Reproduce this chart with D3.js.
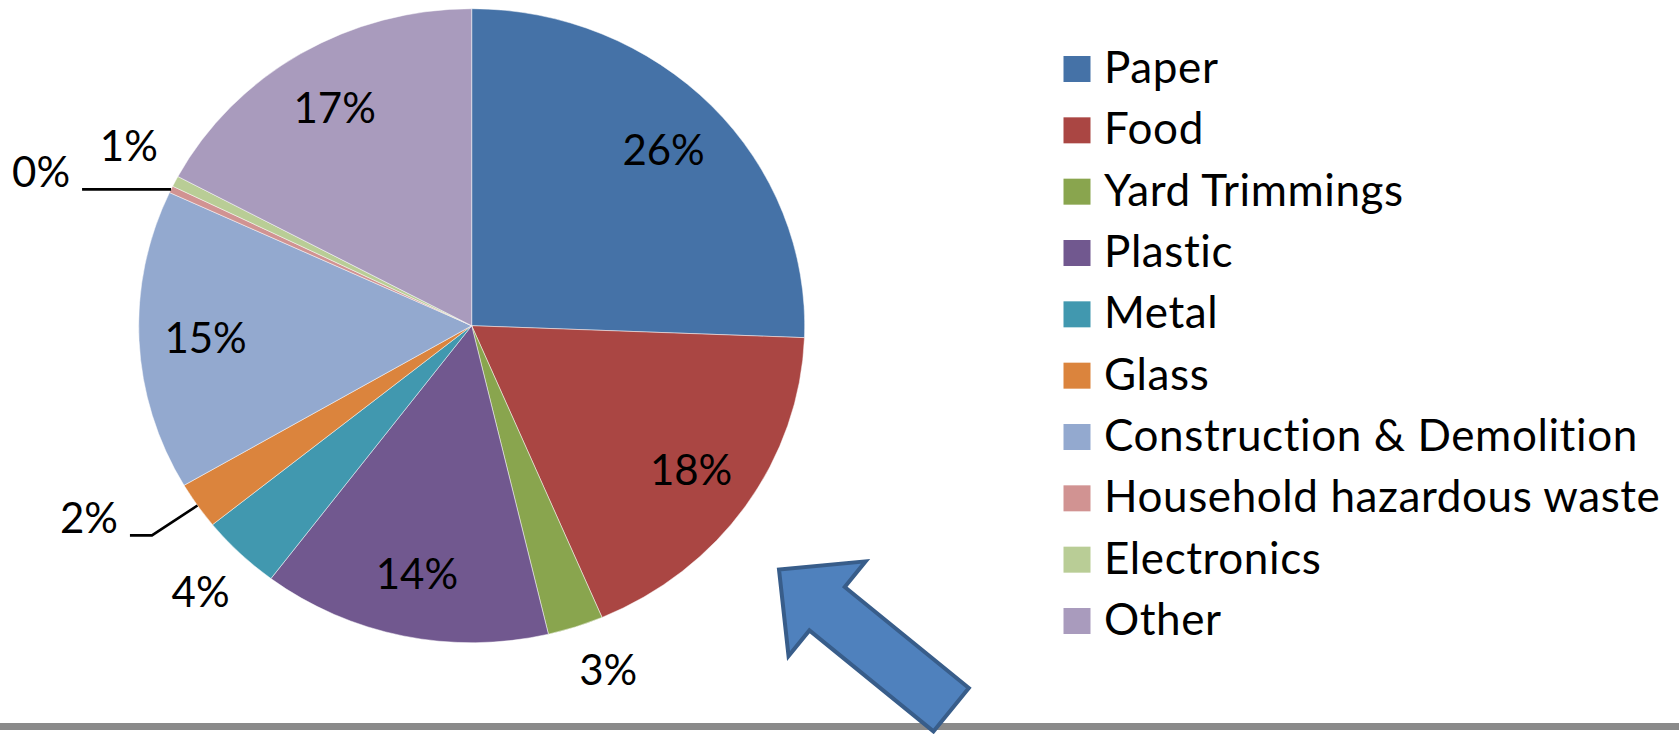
<!DOCTYPE html>
<html>
<head>
<meta charset="utf-8">
<style>
  html, body { margin: 0; padding: 0; background: #fff; }
  svg { display: block; }
  text { font-family: Lato, "Open Sans", sans-serif; fill: #000; }
</style>
<script src="https://cdnjs.cloudflare.com/ajax/libs/d3/7.8.5/d3.min.js"></script>
</head>
<body>
<svg id="chart"></svg>
<script>
// waste composition, share of total (%)
const categories = ["Paper", "Food", "Yard Trimmings", "Plastic", "Metal", "Glass",
  "Construction & Demolition", "Household hazardous waste", "Electronics", "Other"];
const shares = [25.6, 18.0, 2.7, 14.0, 3.9, 2.4, 15.3, 0.35, 0.55, 17.2];
const colors = ["#4572a7", "#aa4643", "#89a54e", "#71588f", "#4198af", "#db843d",
  "#93a9cf", "#d19392", "#b9cd96", "#a99bbd"];

const width = 1679, height = 734;
const svg = d3.select("#chart").attr("width", width).attr("height", height);

// pie is drawn a little wider than tall, like the original
const cx = 471.7, cy = 325.7;
const ry = 317, rx = 333;
const fontSize = 42;
const legendFont = 44;

const data = categories.map((c, i) => ({ name: c, value: shares[i], color: colors[i] }));

const pie = d3.pie().sort(null).value(d => d.value);
const arcs = pie(data);
const arc = d3.arc().innerRadius(0).outerRadius(ry);

// point on the (stretched) pie at angle a and relative radius r
function pt(a, r) {
  return [cx + Math.sin(a) * r * rx, cy - Math.cos(a) * r * ry];
}

const gPie = svg.append("g")
  .attr("transform", "translate(" + cx + "," + cy + ") scale(" + (rx / ry) + ",1)");

gPie.selectAll("path")
  .data(arcs)
  .enter().append("path")
  .attr("d", arc)
  .attr("fill", d => d.data.color)
  .attr("stroke", "#ffffff")
  .attr("stroke-opacity", 0.6)
  .attr("stroke-width", 0.8)
  .attr("vector-effect", "non-scaling-stroke");

// labels that were dragged out with a leader line
const leaders = {
  "Glass": { elbow: 1.166, run: 22 },
  "Household hazardous waste": { elbow: 1.0, run: 89 }
};
// small hand nudges of outside labels (px)
const nudges = {
  "Electronics": [4, -11],
  "Yard Trimmings": [15, -8]
};

const gLab = svg.append("g");
arcs.forEach(d => {
  const mid = (d.startAngle + d.endAngle) / 2;
  const txt = Math.round(d.data.value) + "%";
  const lead = leaders[d.data.name];
  if (lead) {
    const p0 = pt(mid, 1.0);
    const p1 = pt(mid, lead.elbow);
    const p2 = [p1[0] - lead.run, p1[1]];
    gLab.append("path")
      .attr("d", d3.line()([p0, p1, p2]))
      .attr("fill", "none")
      .attr("stroke", "#000")
      .attr("stroke-width", 2.6);
    gLab.append("text")
      .attr("x", p2[0] - 12)
      .attr("y", p2[1] - 2)
      .attr("text-anchor", "end")
      .style("font-size", fontSize + "px")
      .text(txt);
  } else {
    const r = d.data.value >= 10 ? 0.8 : 1.17;
    const p = pt(mid, r);
    const n = nudges[d.data.name] || [0, 0];
    gLab.append("text")
      .attr("x", p[0] + n[0])
      .attr("y", p[1] + n[1])
      .attr("dy", "0.36em")
      .attr("text-anchor", "middle")
      .style("font-size", fontSize + "px")
      .text(txt);
  }
});

// legend
const rowY = d3.scalePoint().domain(categories).range([69, 621]);
const legend = svg.selectAll(".legend")
  .data(data)
  .enter().append("g")
  .attr("class", "legend")
  .attr("transform", d => "translate(1063.5," + rowY(d.name) + ")");

legend.append("rect")
  .attr("x", 0)
  .attr("y", -13)
  .attr("width", 27)
  .attr("height", 26)
  .attr("fill", d => d.color);

legend.append("text")
  .attr("x", 40.5)
  .attr("y", 14)
  .style("font-size", legendFont + "px")
  .style("letter-spacing", "0.6px")
  .text(d => d.name);

// grey rule along the bottom
svg.append("rect")
  .attr("x", 0).attr("y", 723)
  .attr("width", width).attr("height", 7)
  .attr("fill", "#8a8a8a");

// block arrow pointing back at the pie
function blockArrow(tip, angle, len, headLen, headW, shaftW) {
  const ux = Math.cos(angle), uy = Math.sin(angle);   // tip -> tail
  const nx = -uy, ny = ux;
  const at = (s, w) => [tip[0] + ux * s + nx * w, tip[1] + uy * s + ny * w];
  return [
    at(0, 0),
    at(headLen, headW / 2),
    at(headLen, shaftW / 2),
    at(len, shaftW / 2),
    at(len, -shaftW / 2),
    at(headLen, -shaftW / 2),
    at(headLen, -headW / 2)
  ];
}
const arrowPts = blockArrow([779, 569.5], Math.atan2(142.7, 175.2), 222, 62, 122, 56);
svg.append("path")
  .attr("d", d3.line()(arrowPts) + "Z")
  .attr("fill", "#4f81bd")
  .attr("stroke", "#385d8a")
  .attr("stroke-width", 4)
  .attr("stroke-linejoin", "miter");
</script>
</body>
</html>
